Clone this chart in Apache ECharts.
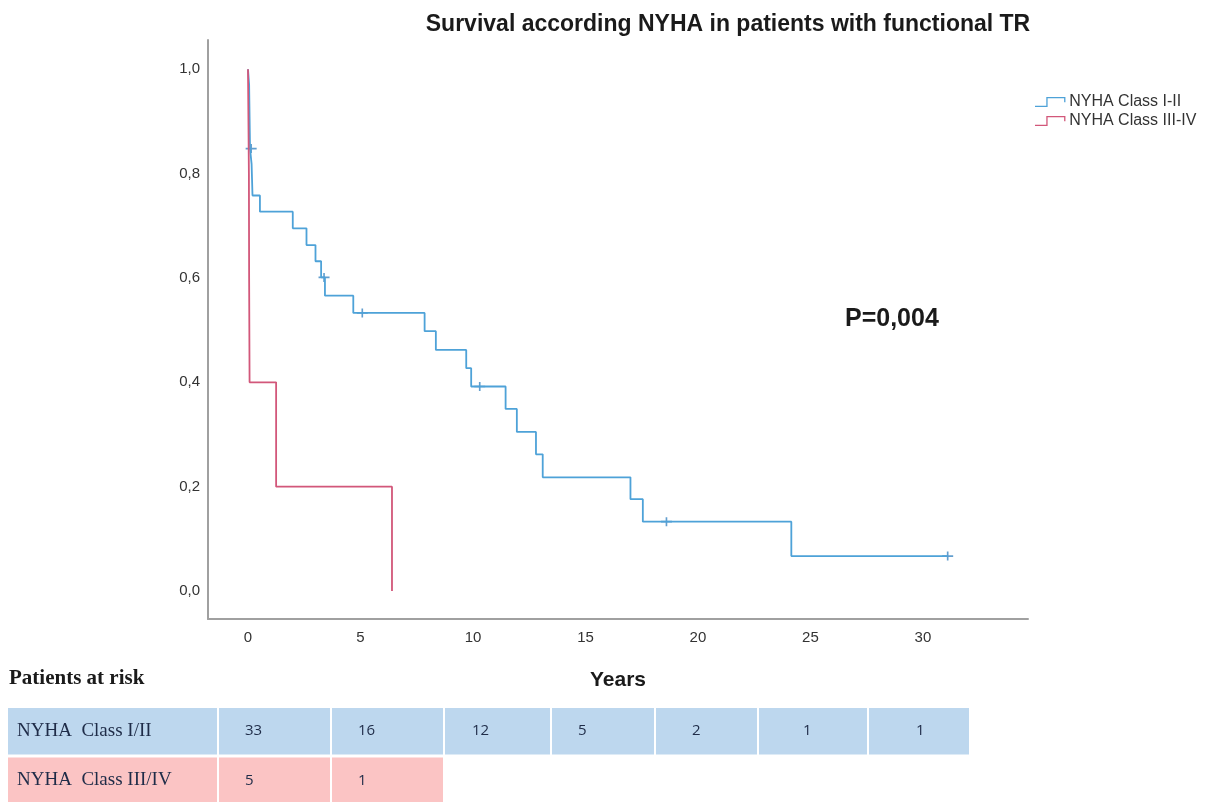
<!DOCTYPE html>
<html><head><meta charset="utf-8">
<script src="https://cdn.jsdelivr.net/npm/echarts@6/dist/echarts.min.js"></script>
<style>html,body{margin:0;padding:0;background:#fff}#c{width:1219px;height:802px}</style>
</head><body><div id="c"></div>
<script>
// ---- data ----
const blueTimes = [0, 0.05, 0.06, 0.07, 0.08, 0.09, 0.16, 0.18, 0.2, 0.53, 1.99, 2.6, 3.0, 3.25, 3.42, 4.68, 7.85, 8.35, 9.7, 9.92, 11.45, 11.95, 12.8, 13.1, 17.0, 17.55, 24.15, 31.1];
const blueSurv  = [1.0, 0.970, 0.939, 0.909, 0.879, 0.848, 0.818, 0.788, 0.758, 0.727, 0.695, 0.663, 0.632, 0.601, 0.566, 0.533, 0.498, 0.462, 0.427, 0.392, 0.349, 0.305, 0.262, 0.218, 0.176, 0.133, 0.067, 0.067];
const blueCensorTimes = [0.14, 3.38, 5.08, 10.3, 18.6, 31.1];
const blueCensorSurv  = [0.848, 0.601, 0.533, 0.392, 0.133, 0.067];
const redTimes = [0, 0.04, 0.05, 0.07, 1.25, 6.4];
const redSurv  = [1.0, 0.8, 0.6, 0.4, 0.2, 0.0];
const xTickValues = [0, 5, 10, 15, 20, 25, 30];
const yTickValues = [0, 0.2, 0.4, 0.6, 0.8, 1.0];
const seriesNames = ['NYHA Class I-II', 'NYHA Class III-IV'];
const riskRowLabels = ['NYHA  Class I/II', 'NYHA  Class III/IV'];
const riskClassI = [33, 16, 12, 5, 2, 1, 1];
const riskClassIII = [5, 1];

// ---- styling / layout ----
const BLUE = '#4ea2d8', BLUE_DARK = '#3b86c2', RED = '#d2577a';
const rowFill = ['#bdd7ee', '#fbc4c4'];
const colEdges = [0, 210, 323, 436, 543, 647, 750, 860, 962];   // table layout in px
const colTextOffset = [27, 27, 28, 27, 37, 45, 48];
const zip = (a, b) => a.map((v, i) => [v, b[i]]);
const plusIcon = 'path://M-5,-0.75H5V0.75H-5Z M-0.75,-4H0.75V4H-0.75Z';
const stepIcon = 'path://M0,10 H13 V0 H35 V6 H33.5 V1.5 H14.5 V11.5 H0 Z';
const fmt = v => v.toFixed(1).replace('.', ',');

const tableRows = [riskClassI, riskClassIII];
const tableData = [];
tableRows.forEach((vals, r) => {
  tableData.push([-1, r, riskRowLabels[r]]);
  vals.forEach((v, c) => tableData.push([c, r, String(v)]));
});

const chart = echarts.init(document.getElementById('c'));
chart.setOption({
  animation: false,
  backgroundColor: '#fff',
  title: {
    text: 'Survival according NYHA in patients with functional TR',
    left: 723, top: 8, textAlign: 'center',
    textStyle: { fontFamily: 'Liberation Sans', fontSize: 23, fontWeight: 'bold', color: '#1a1a1a' }
  },
  legend: {
    data: seriesNames, orient: 'vertical', left: 1030, top: 89,
    icon: stepIcon, itemWidth: 34, itemHeight: 10, itemGap: 3,
    textStyle: { fontFamily: 'Liberation Sans', fontSize: 16, color: '#333', padding: [0, 0, 0, -3] }
  },
  grid: [
    { left: 208, right: 191, top: 40, bottom: 183, outerBoundsMode: 'none' },
    { left: 8, top: 708, width: 962, height: 99, outerBoundsMode: 'none' }
  ],
  xAxis: [
    {
      type: 'value', min: -1.778, max: 34.67, gridIndex: 0,
      name: 'Years', nameLocation: 'middle', nameGap: 51,
      nameTextStyle: { fontFamily: 'Liberation Sans', fontSize: 21, fontWeight: 'bold', color: '#1a1a1a' },
      axisLine: { onZero: false, lineStyle: { color: '#a0a0a0', width: 2 } },
      axisTick: { show: false }, splitLine: { show: false },
      axisLabel: { customValues: xTickValues, margin: 11, fontFamily: 'Liberation Sans', fontSize: 15, color: '#333' }
    },
    { type: 'value', min: 0, max: colEdges[colEdges.length - 1], gridIndex: 1, show: false }
  ],
  yAxis: [
    {
      type: 'value', min: -0.0536, max: 1.056, gridIndex: 0,
      axisLine: { show: true, onZero: false, lineStyle: { color: '#a0a0a0', width: 2 } },
      axisTick: { show: false }, splitLine: { show: false },
      axisLabel: { customValues: yTickValues, formatter: fmt, margin: 8, fontFamily: 'Liberation Sans', fontSize: 15, color: '#333' }
    },
    { type: 'value', min: 0, max: 2, inverse: true, gridIndex: 1, show: false }
  ],
  series: [
    { name: seriesNames[0], type: 'line', step: 'end', data: zip(blueTimes, blueSurv), symbol: 'none',
      lineStyle: { color: BLUE, width: 1.8 }, itemStyle: { color: BLUE }, silent: true },
    { name: seriesNames[1], type: 'line', step: 'end', data: zip(redTimes, redSurv), symbol: 'none',
      lineStyle: { color: RED, width: 1.8 }, itemStyle: { color: RED }, silent: true },
    { type: 'scatter', data: zip(blueCensorTimes, blueCensorSurv), symbol: plusIcon, symbolSize: [11, 9],
      itemStyle: { color: BLUE_DARK }, silent: true },
    {
      type: 'custom', xAxisIndex: 1, yAxisIndex: 1, silent: true, clip: false,
      data: tableData.map(d => [d[0], d[1]]),
      renderItem: (params, api) => {
        const d = tableData[params.dataIndex];
        const c = d[0], r = d[1];
        const x0 = colEdges[c + 1];
        const x1 = colEdges[c + 2];
        const p0 = api.coord([x0, r]);
        const p1 = api.coord([x1, r + 1]);
        return {
          type: 'group',
          children: [
            { type: 'rect', shape: { x: p0[0] + (c < 0 ? 0 : 1), y: p0[1], width: p1[0] - p0[0] - (c < 0 ? 1 : 2), height: p1[1] - p0[1] - 3 },
              style: { fill: rowFill[r] } },
            { type: 'text', style: {
                text: d[2], x: p0[0] + (c < 0 ? 9 : colTextOffset[c]), y: p0[1] + 23,
                align: 'left', verticalAlign: 'middle',
                font: c < 0 ? '19px "Liberation Serif"' : '15px "Open Sans"', fill: '#1f2c48' } }
          ]
        };
      }
    }
  ],
  graphic: [
    { type: 'text', left: 845, top: 307, style: { text: 'P=0,004', font: 'bold 25px "Liberation Sans"', fill: '#1a1a1a' } },
    { type: 'text', left: 9, top: 668, style: { text: 'Patients at risk', font: 'bold 21px "Liberation Serif"', fill: '#1a1a1a' } }
  ]
});
</script>
</body></html>
